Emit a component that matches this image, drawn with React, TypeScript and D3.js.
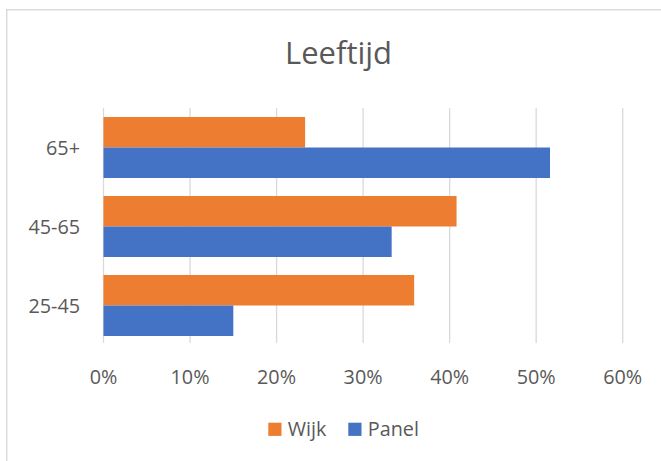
import React from "react";
import * as d3 from "d3";

const categories = ["65+", "45-65", "25-45"];
const seriesNames = ["Wijk", "Panel"];
const wijkValues = [0.233, 0.408, 0.359];
const panelValues = [0.516, 0.333, 0.15];
const xTicks = [0, 0.1, 0.2, 0.3, 0.4, 0.5, 0.6];
const title = "Leeftijd";

const colors = ["#ED7D31", "#4472C4"];
const W = 661;
const H = 461;
const FONT = "'Open Sans', 'Noto Sans', sans-serif";
const TEXT = "#595959";
const GRID = "#d9d9d9";

export default function App() {
  const plot = { left: 103.5, right: 622.7, top: 108, bottom: 345 };
  const x = d3.scaleLinear().domain([0, 0.6]).range([plot.left, plot.right]);
  const y = d3
    .scaleBand<string>()
    .domain(categories)
    .range([plot.top, plot.bottom])
    .paddingInner(0.228)
    .paddingOuter(0.114);
  const ySub = d3.scaleBand<string>().domain(seriesNames).range([0, y.bandwidth()]);
  const series = [wijkValues, panelValues];
  const fmt = d3.format(".0%");
  const fs = 19.8;

  return (
    <svg
      width={W}
      height={H}
      style={{ position: "absolute", left: 0, top: 0, background: "#fff" }}
      fontFamily={FONT}
    >
      <rect x={0} y={0} width={W} height={H} fill="#fff" />
      <rect x={6.7} y={9.7} width={W + 50} height={H + 50} fill="none" stroke={GRID} strokeWidth={1.4} />
      <text x={338.5} y={64.3} textAnchor="middle" fontSize={31} fill={TEXT}>
        {title}
      </text>
      {xTicks.map((t) => (
        <g key={t}>
          <line x1={x(t)} x2={x(t)} y1={plot.top} y2={plot.bottom - 2} stroke={GRID} strokeWidth={1.3} />
          <text x={x(t)} y={383.5} textAnchor="middle" fontSize={fs} fill={TEXT}>
            {fmt(t)}
          </text>
        </g>
      ))}
      {categories.map((c, i) => (
        <g key={c}>
          {series.map((vals, s) => (
            <rect
              key={s}
              x={x(0)}
              y={(y(c) as number) + (ySub(seriesNames[s]) as number)}
              width={x(vals[i]) - x(0)}
              height={ySub.bandwidth()}
              fill={colors[s]}
            />
          ))}
          <text
            x={80}
            y={(y(c) as number) + y.bandwidth() / 2 + 7}
            textAnchor="end"
            fontSize={fs}
            fill={TEXT}
          >
            {c}
          </text>
        </g>
      ))}
      {seriesNames.map((n, s) => {
        const lx = s === 0 ? 268.3 : 348.3;
        return (
          <g key={n}>
            <rect x={lx} y={422.7} width={13.2} height={13.2} fill={colors[s]} />
            <text x={lx + 19.5} y={436} fontSize={fs} fill={TEXT}>
              {n}
            </text>
          </g>
        );
      })}
    </svg>
  );
}
